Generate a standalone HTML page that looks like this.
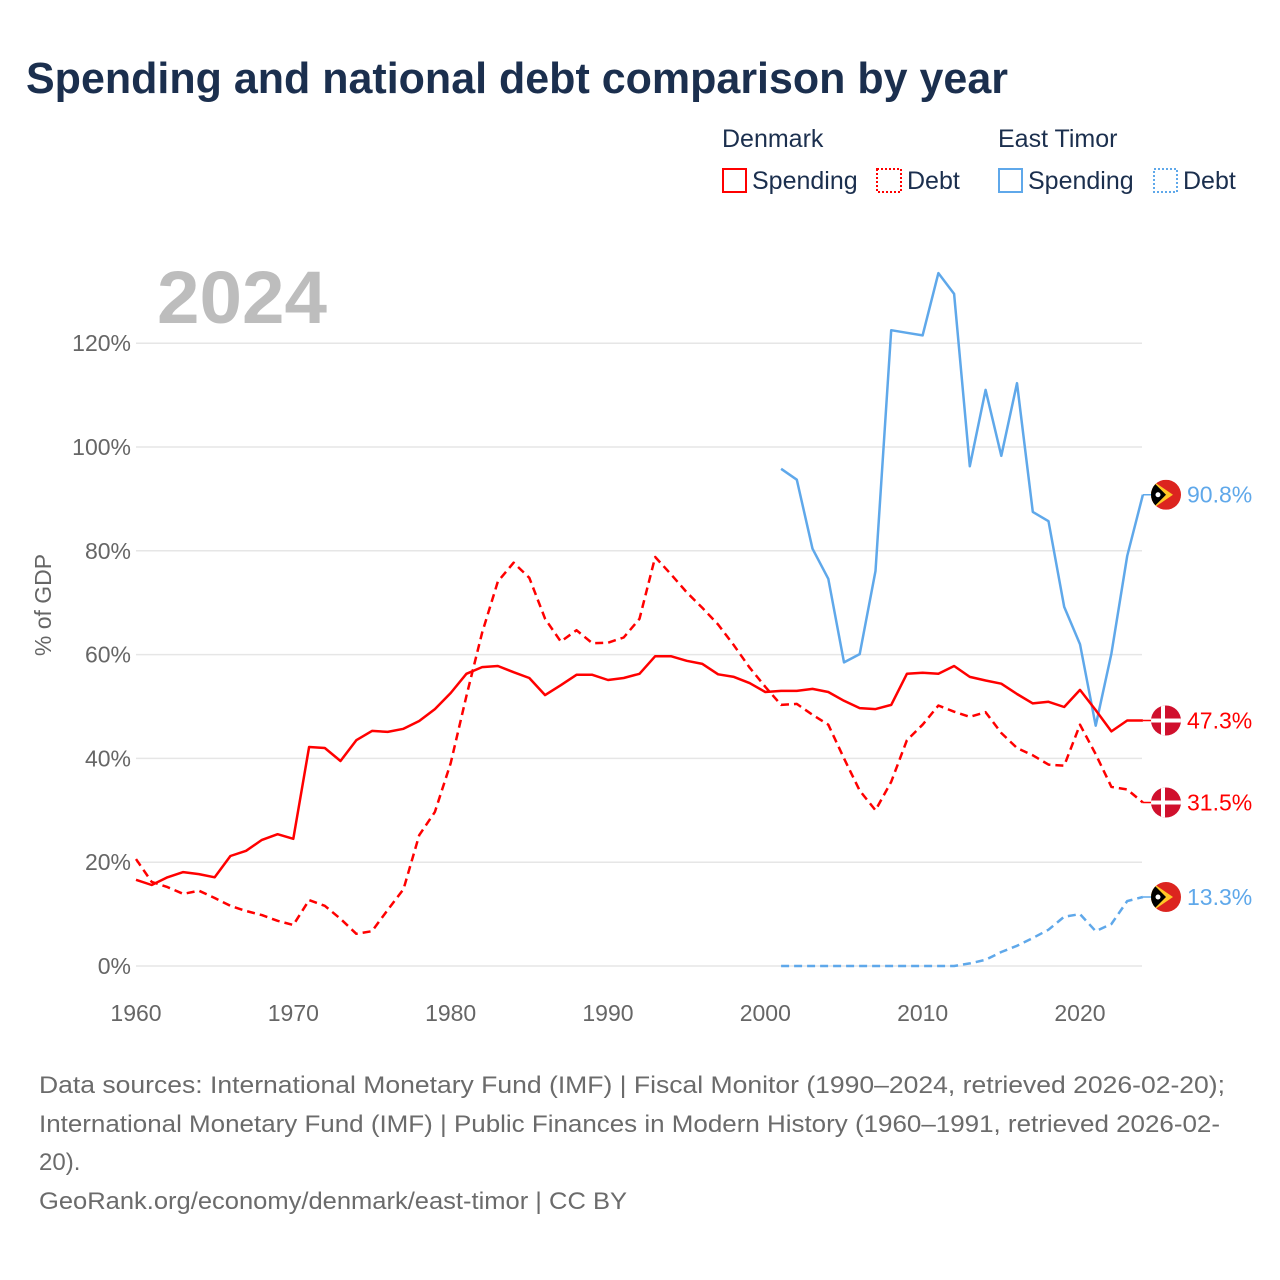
<!DOCTYPE html>
<html><head><meta charset="utf-8"><style>
body{margin:0;background:#fff;width:1280px;height:1280px;overflow:hidden;font-family:"Liberation Sans",sans-serif}
svg{position:absolute;left:0;top:0}
</style></head><body>
<svg id="chart" width="1280" height="1280" xmlns="http://www.w3.org/2000/svg">
<text x="26" y="93" font-size="44" font-weight="bold" fill="#1b2f4e" textLength="982" lengthAdjust="spacingAndGlyphs">Spending and national debt comparison by year</text>
<g font-size="25" fill="#1b2f4e">
<text x="722" y="147">Denmark</text>
<text x="998" y="147">East Timor</text>
<g><rect x="723" y="169" width="23" height="23" fill="none" stroke="#f00" stroke-width="2"/><text x="752" y="189">Spending</text></g>
<g><rect x="877" y="169" width="24" height="23" fill="none" stroke="#f00" stroke-width="2" stroke-dasharray="2 2"/><text x="907" y="189">Debt</text></g>
<g><rect x="999" y="169" width="23" height="23" fill="none" stroke="#5fa8ea" stroke-width="2"/><text x="1028" y="189">Spending</text></g>
<g><rect x="1154" y="169" width="23" height="23" fill="none" stroke="#5fa8ea" stroke-width="2" stroke-dasharray="2 2"/><text x="1183" y="189">Debt</text></g>
</g>
<text x="157" y="323" font-size="74" font-weight="bold" fill="#bdbdbd" textLength="170" lengthAdjust="spacingAndGlyphs">2024</text>
<text transform="translate(51,605) rotate(-90)" text-anchor="middle" font-size="23" fill="#666">% of GDP</text>
<g id="grid"></g><g id="axes"></g><g id="series"></g><g id="ends"></g>
<g font-size="24" fill="#6b6b6b">
<text x="39" y="1093" textLength="1186" lengthAdjust="spacingAndGlyphs">Data sources: International Monetary Fund (IMF) | Fiscal Monitor (1990–2024, retrieved 2026-02-20);</text>
<text x="39" y="1132" textLength="1181" lengthAdjust="spacingAndGlyphs">International Monetary Fund (IMF) | Public Finances in Modern History (1960–1991, retrieved 2026-02-</text>
<text x="39" y="1170">20).</text>
<text x="39" y="1209" textLength="588" lengthAdjust="spacingAndGlyphs">GeoRank.org/economy/denmark/east-timor | CC BY</text>
</g>
</svg>
<script>
const yTicks=[0,20,40,60,80,100,120];
const xTicks=[1960,1970,1980,1990,2000,2010,2020];
const dkSpendStart=1960;
const dkSpend=[16.6,15.6,17.1,18.1,17.7,17.1,21.2,22.2,24.3,25.4,24.5,42.2,42.0,39.5,43.5,45.3,45.1,45.7,47.2,49.5,52.6,56.3,57.6,57.8,56.6,55.5,52.2,54.1,56.1,56.1,55.1,55.5,56.3,59.7,59.7,58.8,58.2,56.2,55.7,54.5,52.8,53.0,53.0,53.4,52.8,51.1,49.7,49.5,50.3,56.3,56.5,56.3,57.8,55.7,55.0,54.4,52.4,50.6,50.9,49.9,53.2,49.3,45.2,47.3,47.3];
const dkDebt=[20.6,16.2,15.2,13.9,14.5,13.1,11.6,10.6,9.8,8.7,7.9,12.7,11.6,9.1,6.2,6.7,10.8,14.8,25.2,29.7,39.1,52.0,64.2,74.1,77.7,74.8,66.9,62.5,64.7,62.2,62.3,63.3,66.9,78.8,75.5,72.0,69.0,65.8,61.8,57.5,53.8,50.3,50.5,48.4,46.5,40.0,33.8,30.0,35.5,43.5,46.5,50.2,49.0,48.0,48.9,44.9,42.0,40.6,38.8,38.6,46.5,40.8,34.5,34.0,31.5];
const etStart=2001;
const etSpend=[95.8,93.7,80.4,74.6,58.5,60.1,76.1,122.5,122,121.5,133.5,129.5,96.3,111,98.3,112.3,87.5,85.7,69.2,62,46.3,60.2,79.0,90.8];
const etDebt=[0,0,0,0,0,0,0,0,0,0,0,0,0.5,1.2,2.7,3.9,5.4,7.0,9.5,10.0,6.7,8.1,12.5,13.3];
const X=y=>136+(y-1960)*15.733;
const Y=v=>966-v*5.19;
const NS='http://www.w3.org/2000/svg';
function mk(t,parent,attrs){const e=document.createElementNS(NS,t);for(const k in attrs)e.setAttribute(k,attrs[k]);document.getElementById(parent).appendChild(e);return e;}
yTicks.forEach(v=>{
 const l=mk('line','grid',{x1:136,x2:1142,y1:Y(v),y2:Y(v),stroke:'#e6e6e6','stroke-width':1.5});
 
 
 const t=mk('text','axes',{x:131,y:Y(v)+8,'text-anchor':'end','font-size':23,fill:'#666'});
 t.textContent=v+'%';
 
 
});
xTicks.forEach(yr=>{
 const t=mk('text','axes',{x:X(yr),y:1021,'text-anchor':'middle','font-size':23,fill:'#666'});
 t.textContent=yr;
 
 
});
function line(arr,start,color,dash,name){
 const pts=arr.map((v,i)=>X(start+i).toFixed(1)+','+Y(v).toFixed(1)).join(' ');
 const p=mk('polyline','series',{points:pts,fill:'none',stroke:color,'stroke-width':2.5,'stroke-linejoin':'round'});
 if(dash)p.setAttribute('stroke-dasharray','8 5');
 
 
}
line(etSpend,etStart,'#5fa8ea',false,'east-timor-spending-line');
line(etDebt,etStart,'#5fa8ea',true,'east-timor-debt-line');
line(dkDebt,dkSpendStart,'#f00',true,'denmark-debt-line');
line(dkSpend,dkSpendStart,'#f00',false,'denmark-spending-line');
function endLabel(v,color,flag,name){
 const y=Y(v),cx=1166;
 mk('line','ends',{x1:X(2024),x2:cx,y1:y,y2:y,stroke:color,'stroke-width':1.5});
 const g=mk('g','ends',{});
 
 
 const cid='c'+name;
 const cp=document.createElementNS(NS,'clipPath');cp.setAttribute('id',cid);
 const cc=document.createElementNS(NS,'circle');cc.setAttribute('cx',cx);cc.setAttribute('cy',y);cc.setAttribute('r',15);cp.appendChild(cc);g.appendChild(cp);
 const inner=document.createElementNS(NS,'g');inner.setAttribute('clip-path','url(#'+cid+')');g.appendChild(inner);
 const add=(t,a)=>{const e=document.createElementNS(NS,t);for(const k in a)e.setAttribute(k,a[k]);inner.appendChild(e);};
 if(flag==='dk'){
  add('rect',{x:cx-15,y:y-15,width:30,height:30,fill:'#d0102d'});
  add('rect',{x:cx-5,y:y-15,width:4,height:30,fill:'#fff'});
  add('rect',{x:cx-15,y:y-2,width:30,height:4,fill:'#fff'});
 }else{
  add('rect',{x:cx-15,y:y-15,width:30,height:30,fill:'#dc241f'});
  add('polygon',{points:`${cx-15},${y-15} ${cx+7},${y} ${cx-15},${y+15}`,fill:'#ffc726'});
  add('polygon',{points:`${cx-15},${y-15} ${cx},${y} ${cx-15},${y+15}`,fill:'#000'});
  add('circle',{cx:cx-8,cy:y,r:2.5,fill:'#fff'});
 }
 const t=mk('text','ends',{x:1187,y:y+8,'font-size':23,fill:color});
 t.textContent=v.toFixed(1)+'%';
 
 
}
endLabel(etSpend[etSpend.length-1],'#5fa8ea','et','east-timor-spending');
endLabel(dkSpend[dkSpend.length-1],'#f00','dk','denmark-spending');
endLabel(dkDebt[dkDebt.length-1],'#f00','dk','denmark-debt');
endLabel(etDebt[etDebt.length-1],'#5fa8ea','et','east-timor-debt');
</script>
</body></html>
